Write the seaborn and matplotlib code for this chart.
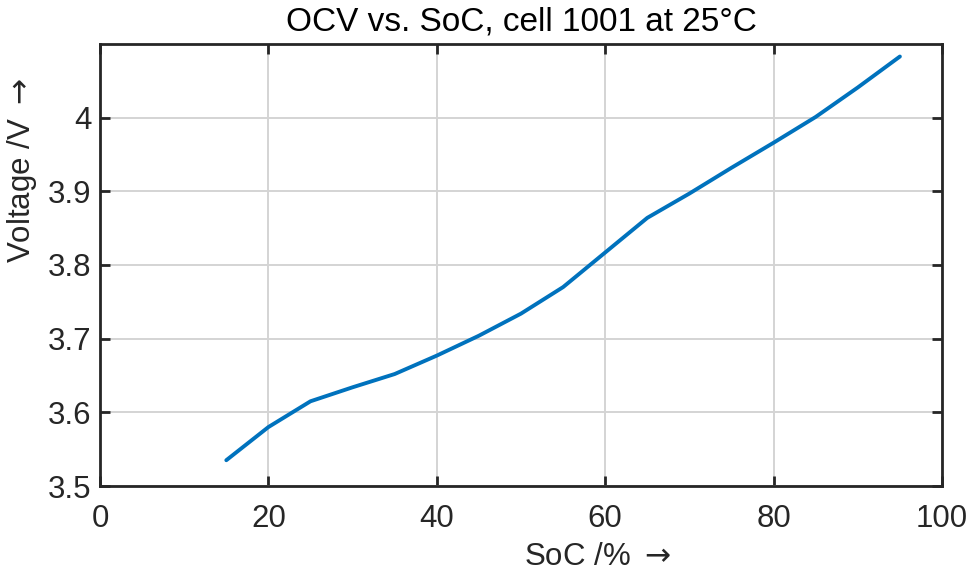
import matplotlib
matplotlib.use("Agg")
import matplotlib.pyplot as plt
import seaborn as sns
import pandas as pd

# State of charge (%) and open-circuit voltage (V)
soc = [15, 20, 25, 30, 35, 40, 45, 50, 55, 60, 65, 70, 75, 80, 85, 90, 95]
ocv = [3.535, 3.580, 3.615, 3.634, 3.652, 3.677, 3.704, 3.734, 3.770, 3.817,
       3.864, 3.897, 3.932, 3.966, 4.001, 4.041, 4.083]

x_ticks = [0, 20, 40, 60, 80, 100]
y_ticks = [3.5, 3.6, 3.7, 3.8, 3.9, 4.0]
y_tick_labels = ["3.5", "3.6", "3.7", "3.8", "3.9", "4"]

df = pd.DataFrame({"SoC": soc, "OCV": ocv})

sns.set_theme(style="white")
plt.rcParams["font.family"] = ["Liberation Sans", "DejaVu Sans"]
plt.rcParams["mathtext.fontset"] = "dejavusans"

fig = plt.figure(figsize=(9.73, 5.76), dpi=100)
ax = fig.add_axes([100 / 973, 90 / 576, 842 / 973, 442 / 576])

sns.lineplot(data=df, x="SoC", y="OCV", ax=ax, color="#0072BD", linewidth=2.8)

ax.set_xlim(0, 100)
ax.set_ylim(3.5, 4.1)
ax.set_xticks(x_ticks)
ax.set_yticks(y_ticks)
ax.set_yticklabels(y_tick_labels)

ax.grid(True, color="#d4d4d4", linewidth=1.4)
ax.set_axisbelow(True)
for s in ax.spines.values():
    s.set_color("#262626")
    s.set_linewidth(2.0)
    s.set_visible(True)

ax.tick_params(axis="both", direction="in", length=7, width=2.0, color="#262626",
               labelsize=22.5, labelcolor="#262626", top=True, right=True,
               bottom=True, left=True, pad=6)
ax.tick_params(axis="x", pad=13)

ax.set_xlabel(r"SoC /% $\rightarrow$", fontsize=22.5, color="#262626")
ax.xaxis.set_label_coords((598 - 100) / 842, (486 - 557) / 442)
ax.set_ylabel(r"Voltage /V $\rightarrow$", fontsize=22.5, color="#262626")
ax.yaxis.set_label_coords((22 - 100) / 842, (486 - 170) / 442)
ax.yaxis.label.set_va("center")
ax.xaxis.label.set_va("center")
ax.set_title("OCV vs. SoC, cell 1001 at 25°C", fontsize=24, color="#000000", pad=10)

fig.savefig("out.png", dpi=100, facecolor="white")
